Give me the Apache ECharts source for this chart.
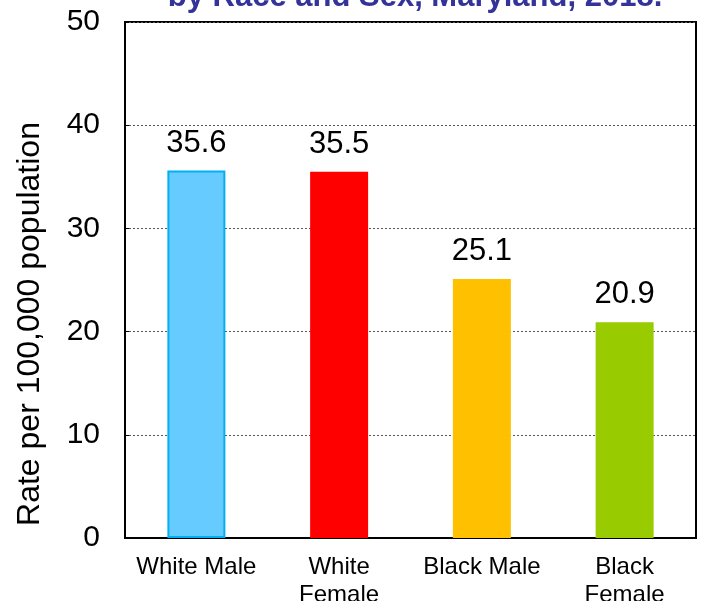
<!DOCTYPE html>
<html><head><meta charset="utf-8">
<script src="https://cdn.jsdelivr.net/npm/echarts@6/dist/echarts.min.js"></script>
<style>html,body{margin:0;padding:0;background:#fff}#c{width:703px;height:601px}</style>
</head><body><div id="c"></div>
<script>
const categories = ['White Male', 'White\nFemale', 'Black Male', 'Black\nFemale'];
const values = [35.6, 35.5, 25.1, 20.9];
const fills = ['#66CCFF', '#FF0000', '#FFC000', '#99CC00'];
const borders = ['#00B0F0', '#FF0000', '#FFC000', '#99CC00'];
const yTicks = [0, 10, 20, 30, 40, 50];
const titleText = 'by Race and Sex, Maryland, 2018.';
const yName = 'Rate per 100,000 population';

const FF = 'Liberation Sans, Arial, sans-serif';
const chart = echarts.init(document.getElementById('c'));
chart.setOption({
  animation: false,
  textStyle: { fontFamily: FF },
  title: {
    text: titleText, left: 410, textAlign: 'center', top: -23,
    textStyle: { color: '#333399', fontSize: 31, fontWeight: 'bold', fontFamily: FF }
  },
  grid: { left: 125, right: 7, top: 22, bottom: 63, containLabel: false, outerBoundsMode: 'none',
          show: true, borderColor: '#000', borderWidth: 2, backgroundColor: 'transparent' },
  xAxis: {
    type: 'category', data: categories,
    axisLine: { lineStyle: { color: '#000', width: 2 } },
    axisTick: { show: false },
    axisLabel: { color: '#000', fontSize: 24, margin: 15, lineHeight: 28, interval: 0 }
  },
  yAxis: {
    type: 'value', min: 0, max: 50, interval: 10,
    axisLine: { show: true, lineStyle: { color: '#000', width: 2 } },
    axisTick: { show: true, inside: true, length: 4, lineStyle: { color: '#000' } },
    axisLabel: { color: '#000', fontSize: 30, margin: 25, formatter: v => yTicks.includes(v) ? String(v) : '' },
    splitLine: { lineStyle: { color: '#555', type: [2, 2], width: 1 } }
  },
  graphic: [{
    type: 'text', x: 30, y: 324, rotation: Math.PI / 2,
    style: { text: yName, fill: '#000', font: '32px ' + FF, textAlign: 'center', textVerticalAlign: 'middle' }
  }],
  series: [{
    type: 'bar', barWidth: 58,
    data: values.map((v, i) => ({ value: v, itemStyle: { color: fills[i], borderColor: borders[i], borderWidth: 2 } })),
    label: { show: true, position: 'top', distance: 12, color: '#000', fontSize: 31, formatter: p => p.value.toFixed(1) }
  }]
});
</script></body></html>
